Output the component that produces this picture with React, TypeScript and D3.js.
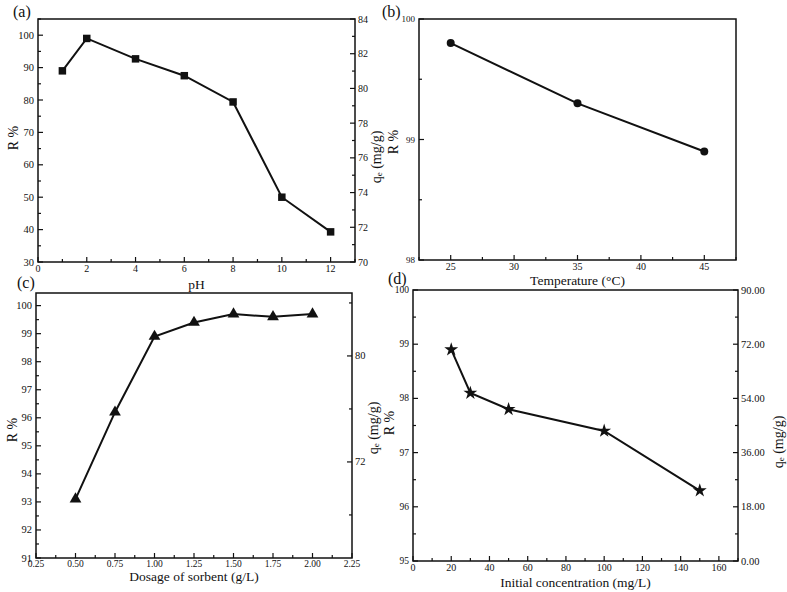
import React from "react";
import * as d3 from "d3";

// (a) effect of pH
const phValues = [1, 2, 4, 6, 8, 10, 12];
const phRemoval = [89, 99, 92.7, 87.5, 79.4, 50, 39.3];
const phTicks = [0, 2, 4, 6, 8, 10, 12];
const phMinor = [1, 3, 5, 7, 9, 11, 13];
const phRTicks = [30, 40, 50, 60, 70, 80, 90, 100];
const phRMinor = [35, 45, 55, 65, 75, 85, 95, 105];
const phQTicks = [70, 72, 74, 76, 78, 80, 82, 84];
const phQMinor = [71, 73, 75, 77, 79, 81, 83];

// (b) effect of temperature
const tempValues = [25, 35, 45];
const tempRemoval = [99.8, 99.3, 98.9];
const tempTicks = [25, 30, 35, 40, 45];
const tempMinor = [22.5, 27.5, 32.5, 37.5, 42.5, 47.5];
const tempRTicks = [98, 99, 100];
const tempRMinor = [98.5, 99.5];

// (c) effect of sorbent dosage
const dosageValues = [0.5, 0.75, 1.0, 1.25, 1.5, 1.75, 2.0];
const dosageRemoval = [93.1, 96.2, 98.9, 99.4, 99.7, 99.6, 99.7];
const dosageTicks = [0.25, 0.5, 0.75, 1.0, 1.25, 1.5, 1.75, 2.0, 2.25];
const dosageMinor = [0.375, 0.625, 0.875, 1.125, 1.375, 1.625, 1.875, 2.125];
const dosageRTicks = [91, 92, 93, 94, 95, 96, 97, 98, 99, 100];
const dosageRMinor = [91.5, 92.5, 93.5, 94.5, 95.5, 96.5, 97.5, 98.5, 99.5];
const dosageQTicks = [72, 80];
const dosageQMinor = [68, 76, 84];

// (d) effect of initial concentration
const concValues = [20, 30, 50, 100, 150];
const concRemoval = [98.9, 98.1, 97.8, 97.4, 96.3];
const concTicks = [0, 20, 40, 60, 80, 100, 120, 140, 160];
const concMinor = [10, 30, 50, 70, 90, 110, 130, 150, 170];
const concRTicks = [95, 96, 97, 98, 99, 100];
const concRMinor = [95.5, 96.5, 97.5, 98.5, 99.5];
const concQTicks = [0, 18, 36, 54, 72, 90];
const concQMinor = [9, 27, 45, 63, 81];

const FONT = "'Liberation Serif', 'Times New Roman', serif";

type RightAxis = {
  domain: [number, number];
  ticks: number[];
  minor: number[];
  format: (v: number) => string;
  fontSize: number;
};

type PanelProps = {
  box: { x0: number; x1: number; y0: number; y1: number };
  xDomain: [number, number];
  yDomain: [number, number];
  xTicks: number[];
  xMinor: number[];
  yTicks: number[];
  yMinor: number[];
  xFormat: (v: number) => string;
  yFormat: (v: number) => string;
  xFont: number;
  yFont: number;
  xs: number[];
  ys: number[];
  symbol: d3.SymbolType;
  symbolSize: number;
  xTitle: string;
  xTitleY: number;
  right?: RightAxis;
};

function Panel(p: PanelProps) {
  const { box } = p;
  const x = d3.scaleLinear().domain(p.xDomain).range([box.x0, box.x1]);
  const y = d3.scaleLinear().domain(p.yDomain).range([box.y1, box.y0]);
  const line = d3
    .line<number>()
    .x((_, i) => x(p.xs[i]))
    .y((d) => y(d));
  const sym = d3.symbol().type(p.symbol).size(p.symbolSize)();
  const yr = p.right
    ? d3.scaleLinear().domain(p.right.domain).range([box.y1, box.y0])
    : null;
  const major = 5;
  const minor = 3;
  return (
    <g>
      <rect
        x={box.x0}
        y={box.y0}
        width={box.x1 - box.x0}
        height={box.y1 - box.y0}
        fill="none"
        stroke="#111"
        strokeWidth={1.5}
      />
      {/* x ticks */}
      {p.xTicks.map((t) => (
        <g key={"xt" + t}>
          <line x1={x(t)} x2={x(t)} y1={box.y1} y2={box.y1 - major} stroke="#111" strokeWidth={1.2} />
          <text
            x={x(t)}
            y={box.y1 + 3}
            dominantBaseline="hanging"
            textAnchor="middle"
            fontSize={p.xFont}
            fontFamily={FONT}
            fill="#111"
          >
            {p.xFormat(t)}
          </text>
        </g>
      ))}
      {p.xMinor.map((t) => (
        <line key={"xm" + t} x1={x(t)} x2={x(t)} y1={box.y1} y2={box.y1 - minor} stroke="#111" strokeWidth={1.2} />
      ))}
      {/* left y ticks */}
      {p.yTicks.map((t) => (
        <g key={"yt" + t}>
          <line x1={box.x0} x2={box.x0 + major} y1={y(t)} y2={y(t)} stroke="#111" strokeWidth={1.2} />
          <text
            x={box.x0 - 4}
            y={y(t)}
            dominantBaseline="central"
            textAnchor="end"
            fontSize={p.yFont}
            fontFamily={FONT}
            fill="#111"
          >
            {p.yFormat(t)}
          </text>
        </g>
      ))}
      {p.yMinor.map((t) => (
        <line key={"ym" + t} x1={box.x0} x2={box.x0 + minor} y1={y(t)} y2={y(t)} stroke="#111" strokeWidth={1.2} />
      ))}
      {/* right axis */}
      {p.right && yr &&
        p.right.ticks.map((t) => (
          <g key={"rt" + t}>
            <line x1={box.x1} x2={box.x1 - major} y1={yr(t)} y2={yr(t)} stroke="#111" strokeWidth={1.2} />
            <text
              x={box.x1 + 3}
              y={yr(t)}
              dominantBaseline="central"
              textAnchor="start"
              fontSize={p.right!.fontSize}
              fontFamily={FONT}
              fill="#111"
            >
              {p.right!.format(t)}
            </text>
          </g>
        ))}
      {p.right && yr &&
        p.right.minor.map((t) => (
          <line key={"rm" + t} x1={box.x1} x2={box.x1 - minor} y1={yr(t)} y2={yr(t)} stroke="#111" strokeWidth={1.2} />
        ))}
      {/* data */}
      <path d={line(p.ys) || ""} fill="none" stroke="#111" strokeWidth={2} />
      {p.ys.map((v, i) => (
        <path key={"pt" + i} d={sym || ""} transform={`translate(${x(p.xs[i])},${y(v)})`} fill="#111" />
      ))}
      <text
        x={(box.x0 + box.x1) / 2}
        y={p.xTitleY}
        textAnchor="middle"
        dominantBaseline="central"
        fontSize={13.5}
        fontFamily={FONT}
        fill="#111"
      >
        {p.xTitle}
      </text>
    </g>
  );
}

function RotLabel({ x, y, children }: { x: number; y: number; children: React.ReactNode }) {
  return (
    <text
      transform={`translate(${x},${y}) rotate(-90)`}
      textAnchor="middle"
      dominantBaseline="central"
      fontSize={14}
      fontFamily={FONT}
      fill="#111"
    >
      {children}
    </text>
  );
}

function QeLabel({ x, y }: { x: number; y: number }) {
  return (
    <text
      transform={`translate(${x},${y}) rotate(-90)`}
      textAnchor="middle"
      dominantBaseline="central"
      fontSize={14}
      fontFamily={FONT}
      fill="#111"
    >
      q
      <tspan fontSize={9} dy={3}>
        e
      </tspan>
      <tspan dy={-3}> (mg/g)</tspan>
    </text>
  );
}

function PanelTag({ x, y, text }: { x: number; y: number; text: string }) {
  return (
    <text x={x} y={y} dominantBaseline="central" fontSize={16} fontFamily={FONT} fill="#111">
      {text}
    </text>
  );
}

const intFmt = (v: number) => d3.format("d")(v);
const dec2 = (v: number) => d3.format(".2f")(v);

export default function App() {
  return (
    <svg
      width={787}
      height={592}
      style={{ position: "absolute", left: 0, top: 0, background: "#fff" }}
    >
      <Panel
        box={{ x0: 38, x1: 355, y0: 19, y1: 262 }}
        xDomain={[0, 13]}
        yDomain={[30, 105]}
        xTicks={phTicks}
        xMinor={phMinor}
        yTicks={phRTicks}
        yMinor={phRMinor}
        xFormat={intFmt}
        yFormat={intFmt}
        xFont={10}
        yFont={10.5}
        xs={phValues}
        ys={phRemoval}
        symbol={d3.symbolSquare}
        symbolSize={56}
        xTitle="pH"
        xTitleY={284}
        right={{ domain: [70, 84], ticks: phQTicks, minor: phQMinor, format: intFmt, fontSize: 10 }}
      />
      <Panel
        box={{ x0: 419, x1: 736, y0: 19, y1: 260 }}
        xDomain={[22.5, 47.5]}
        yDomain={[98, 100]}
        xTicks={tempTicks}
        xMinor={tempMinor}
        yTicks={tempRTicks}
        yMinor={tempRMinor}
        xFormat={intFmt}
        yFormat={intFmt}
        xFont={10}
        yFont={9}
        xs={tempValues}
        ys={tempRemoval}
        symbol={d3.symbolCircle}
        symbolSize={50}
        xTitle="Temperature (°C)"
        xTitleY={280}
      />
      <Panel
        box={{ x0: 36, x1: 352, y0: 293, y1: 558 }}
        xDomain={[0.25, 2.25]}
        yDomain={[91, 100.45]}
        xTicks={dosageTicks}
        xMinor={dosageMinor}
        yTicks={dosageRTicks}
        yMinor={dosageRMinor}
        xFormat={dec2}
        yFormat={intFmt}
        xFont={9.5}
        yFont={10.5}
        xs={dosageValues}
        ys={dosageRemoval}
        symbol={d3.symbolTriangle}
        symbolSize={60}
        xTitle="Dosage of sorbent (g/L)"
        xTitleY={576}
        right={{ domain: [64.75, 84.75], ticks: dosageQTicks, minor: dosageQMinor, format: intFmt, fontSize: 10.5 }}
      />
      <Panel
        box={{ x0: 413, x1: 738, y0: 290, y1: 561 }}
        xDomain={[0, 170]}
        yDomain={[95, 100]}
        xTicks={concTicks}
        xMinor={concMinor}
        yTicks={concRTicks}
        yMinor={concRMinor}
        xFormat={intFmt}
        yFormat={intFmt}
        xFont={10}
        yFont={9.5}
        xs={concValues}
        ys={concRemoval}
        symbol={d3.symbolStar}
        symbolSize={60}
        xTitle="Initial concentration (mg/L)"
        xTitleY={582}
        right={{ domain: [0, 90], ticks: concQTicks, minor: concQMinor, format: dec2, fontSize: 10.5 }}
      />

      <RotLabel x={13} y={138}>R %</RotLabel>
      <QeLabel x={376} y={157} />
      <RotLabel x={393} y={142}>R %</RotLabel>

      <RotLabel x={12} y={430}>R %</RotLabel>
      <QeLabel x={373} y={428} />
      <RotLabel x={389} y={423}>R %</RotLabel>
      <QeLabel x={778} y={442} />

      <PanelTag x={13} y={11} text="(a)" />
      <PanelTag x={382} y={11} text="(b)" />
      <PanelTag x={17} y={282} text="(c)" />
      <PanelTag x={388} y={278} text="(d)" />
    </svg>
  );
}
